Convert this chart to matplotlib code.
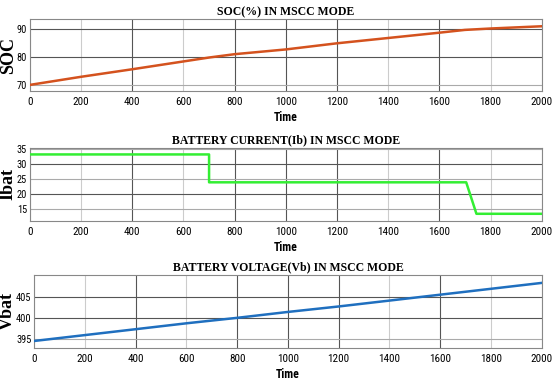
import matplotlib
matplotlib.use("Agg")
import matplotlib.pyplot as plt
from matplotlib import font_manager

# data
time = [0, 200, 400, 600, 700, 800, 1000, 1200, 1400, 1600, 1700, 1800, 2000]
soc = [70, 72.9, 75.6, 78.4, 79.8, 81.0, 82.7, 84.9, 86.8, 88.7, 89.7, 90.2, 91.0]

t_cur = [0, 700, 700, 1705, 1745, 2000]
ibat = [33.2, 33.2, 23.9, 23.9, 13.4, 13.4]

t_volt = [0, 200, 400, 600, 800, 1000, 1200, 1400, 1600, 1800, 2000]
vbat = [394.6, 396.0, 397.4, 398.8, 400.1, 401.5, 402.8, 404.2, 405.6, 407.0, 408.4]

xticks = [0, 200, 400, 600, 800, 1000, 1200, 1400, 1600, 1800, 2000]
dark_x = [400, 800, 1000, 1200, 1600]

# pick a narrow sans for the tick labels if one is installed
names = {f.name for f in font_manager.fontManager.ttflist}
TICK_FONT = "DejaVu Sans"
for cand in ["Liberation Sans Narrow", "Roboto Condensed", "Open Sans Condensed", "DejaVu Sans Condensed"]:
    if cand in names:
        TICK_FONT = cand
        break
SERIF = ["Liberation Serif", "DejaVu Serif"]

fig = plt.figure(figsize=(5.52, 3.85), dpi=100)


def panel(rect, x, y, color, title, ylabel, ylab_x, ylim, yticks, dark_y):
    ax = fig.add_axes(rect)
    ax.plot(x, y, color=color, lw=1.8, zorder=3)
    ax.set_xlim(0, 2000)
    ax.set_ylim(*ylim)
    ax.set_xticks(xticks)
    ax.set_yticks(yticks)
    ax.tick_params(axis="x", length=0, pad=4.5, labelsize=8)
    ax.tick_params(axis="y", length=0, pad=2, labelsize=7.5)
    for lab in ax.get_xticklabels() + ax.get_yticklabels():
        lab.set_family(TICK_FONT)
    ax.grid(True, lw=0.8)
    for tk, gl in zip(xticks, ax.get_xgridlines()):
        gl.set_color("#555555" if tk in dark_x else "#cccccc")
    for tk, gl in zip(yticks, ax.get_ygridlines()):
        gl.set_color("#555555" if tk in dark_y else "#aaaaaa")
    for sp in ax.spines.values():
        sp.set_color("#888888")
        sp.set_linewidth(0.8)
    ax.set_title(title, family=SERIF, weight="bold", fontsize=8.5, pad=3)
    ax.set_xlabel("Time", family=TICK_FONT, weight="bold", fontsize=8.5, labelpad=3)
    ax.set_ylabel(ylabel, family=SERIF, weight="bold", fontsize=13, va="baseline")
    ax.yaxis.set_label_coords(ylab_x, 0.5)
    return ax


panel([0.0543, 0.7636, 0.927, 0.187], time, soc, "#d4521e",
      "SOC(%) IN MSCC MODE", "SOC", -0.0332, (67.8, 93.6), [70, 80, 90], [80, 90])
panel([0.0543, 0.426, 0.927, 0.190], t_cur, ibat, "#33ee33",
      "BATTERY CURRENT(Ib) IN MSCC MODE", "Ibat", -0.0336, (11, 35.4),
      [15, 20, 25, 30, 35], [20, 30])
panel([0.0621, 0.0969, 0.919, 0.189], t_volt, vbat, "#1f6fbf",
      "BATTERY VOLTAGE(Vb) IN MSCC MODE", "Vbat", -0.0434, (393, 410.3),
      [395, 400, 405], [400, 405])

fig.savefig("out.png", dpi=100)
